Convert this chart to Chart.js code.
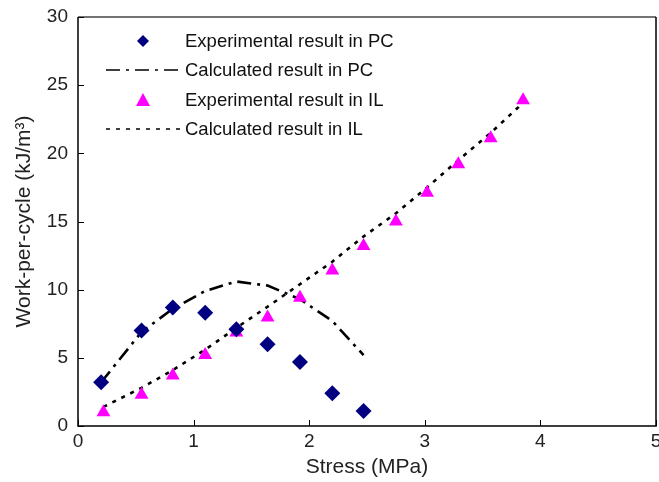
<!DOCTYPE html>
<html><head><meta charset="utf-8">
<script src="https://cdn.jsdelivr.net/npm/chart.js@4"></script>
<style>html,body{margin:0;padding:0;background:#fff}#wrap{width:659px;height:482px}</style>
</head><body><div id="wrap"><canvas id="c" width="659" height="482"></canvas></div>
<script>
const stressPC = [0.2, 0.55, 0.82, 1.1, 1.37, 1.64, 1.92, 2.2, 2.47];
const expPC = [3.2, 7.0, 8.7, 8.3, 7.1, 6.0, 4.7, 2.4, 1.1];
const calcPC = [3.2, 6.9, 8.6, 9.9, 10.6, 10.3, 9.3, 7.7, 5.2];
const stressIL = [0.22, 0.55, 0.82, 1.1, 1.37, 1.64, 1.92, 2.2, 2.47, 2.75, 3.02, 3.29, 3.57, 3.85];
const expIL = [1.0, 2.3, 3.7, 5.2, 6.85, 7.95, 9.4, 11.4, 13.2, 15.0, 17.1, 19.2, 21.1, 23.9];
const calcIL = [1.4, 2.8, 4.1, 5.6, 7.2, 8.75, 10.4, 12.05, 13.9, 15.6, 17.5, 19.5, 21.5, 23.7];
const xTicks = [0, 1, 2, 3, 4, 5];
const yTicks = [0, 5, 10, 15, 20, 25, 30];
const seriesLabels = ['Experimental result in PC', 'Calculated result in PC', 'Experimental result in IL', 'Calculated result in IL'];

const pts = (xs, ys) => xs.map((x, i) => ({x, y: ys[i]}));
const FONT = "'Liberation Sans', Arial, sans-serif";

const framePlugin = {
  id: 'frame',
  afterDraw(chart) {
    const {ctx, chartArea: a, scales: {x, y}} = chart;
    ctx.save();
    ctx.lineWidth = 1.5;
    ctx.strokeStyle = '#444';
    ctx.beginPath(); ctx.moveTo(a.left, a.top); ctx.lineTo(a.right, a.top); ctx.stroke();
    ctx.strokeStyle = '#000';
    ctx.beginPath();
    ctx.moveTo(a.left, a.top); ctx.lineTo(a.left, a.bottom); ctx.lineTo(a.right, a.bottom); ctx.lineTo(a.right, a.top);
    ctx.stroke();
    ctx.lineWidth = 1;
    ctx.beginPath();
    xTicks.forEach(v => { const px = Math.round(x.getPixelForValue(v)) + 0.5; ctx.moveTo(px, a.bottom); ctx.lineTo(px, a.bottom - 6); });
    yTicks.forEach(v => { const py = Math.round(y.getPixelForValue(v)) + 0.5; ctx.moveTo(a.left, py); ctx.lineTo(a.left + 6, py); });
    ctx.stroke();
    // legend
    const ds = chart.data.datasets;
    const rows = [41, 70, 100, 129];
    ctx.font = '18.5px ' + FONT;
    ctx.textBaseline = 'middle';
    ctx.fillStyle = '#111';
    ds.forEach((d, i) => {
      const yy = rows[i];
      if (d.showLine) {
        ctx.save();
        ctx.strokeStyle = d.borderColor;
        ctx.lineWidth = 1.6;
        ctx.setLineDash(d.borderDash);
        ctx.beginPath(); ctx.moveTo(106, yy); ctx.lineTo(180, yy); ctx.stroke();
        ctx.restore();
      } else {
        ctx.save();
        ctx.fillStyle = d.backgroundColor;
        ctx.beginPath();
        if (d.pointStyle === 'rectRot') {
          const r = 6;
          ctx.moveTo(143, yy - r); ctx.lineTo(143 + r, yy); ctx.lineTo(143, yy + r); ctx.lineTo(143 - r, yy);
        } else {
          ctx.moveTo(143, yy - 7); ctx.lineTo(150, yy + 6); ctx.lineTo(136, yy + 6);
        }
        ctx.closePath(); ctx.fill();
        ctx.restore();
      }
      ctx.fillText(d.label, 185, yy + 1);
    });
    ctx.restore();
  }
};

new Chart(document.getElementById('c'), {
  type: 'scatter',
  data: {
    datasets: [
      {label: seriesLabels[0], data: pts(stressPC, expPC), pointStyle: 'rectRot', pointRadius: 8, backgroundColor: '#000080', borderColor: '#000080', borderWidth: 0, showLine: false, order: 1},
      {label: seriesLabels[1], data: pts(stressPC, calcPC), showLine: true, pointRadius: 0, borderColor: '#000', borderWidth: 2.6, borderDash: [14, 6, 3, 6], backgroundColor: '#000', order: 3},
      {label: seriesLabels[2], data: pts(stressIL, expIL), pointStyle: 'triangle', pointRadius: 8, backgroundColor: '#FF00FF', borderColor: '#FF00FF', borderWidth: 0, showLine: false, order: 2},
      {label: seriesLabels[3], data: pts(stressIL, calcIL), showLine: true, pointRadius: 0, borderColor: '#000', borderWidth: 2.6, borderDash: [4, 6], backgroundColor: '#000', order: 4}
    ]
  },
  options: {
    responsive: false,
    animation: false,
    layout: {autoPadding: false, padding: {top: 17, right: 3, left: 0, bottom: 0}},
    plugins: {legend: {display: false}, tooltip: {enabled: false}},
    scales: {
      x: {
        type: 'linear', min: 0, max: 5,
        afterBuildTicks: s => { s.ticks = xTicks.map(v => ({value: v})); },
        afterFit: s => { s.height = 56; s.paddingLeft = 0; s.paddingRight = 0; },
        grid: {display: false, drawTicks: false},
        border: {display: false},
        ticks: {color: '#222', font: {size: 19, family: FONT}, padding: 4},
        title: {display: true, text: 'Stress (MPa)', color: '#222', font: {size: 21, family: FONT}, padding: {top: 4, bottom: 2}}
      },
      y: {
        type: 'linear', min: 0, max: 30,
        afterBuildTicks: s => { s.ticks = yTicks.map(v => ({value: v})); },
        afterFit: s => { s.width = 78; s.paddingTop = 0; s.paddingBottom = 0; },
        grid: {display: false, drawTicks: false},
        border: {display: false},
        ticks: {color: '#222', font: {size: 19, family: FONT}, padding: 10},
        title: {display: true, text: 'Work-per-cycle (kJ/m³)', color: '#222', font: {size: 21, family: FONT}, padding: {top: 12, bottom: 4}}
      }
    }
  },
  plugins: [framePlugin]
});
</script></body></html>
